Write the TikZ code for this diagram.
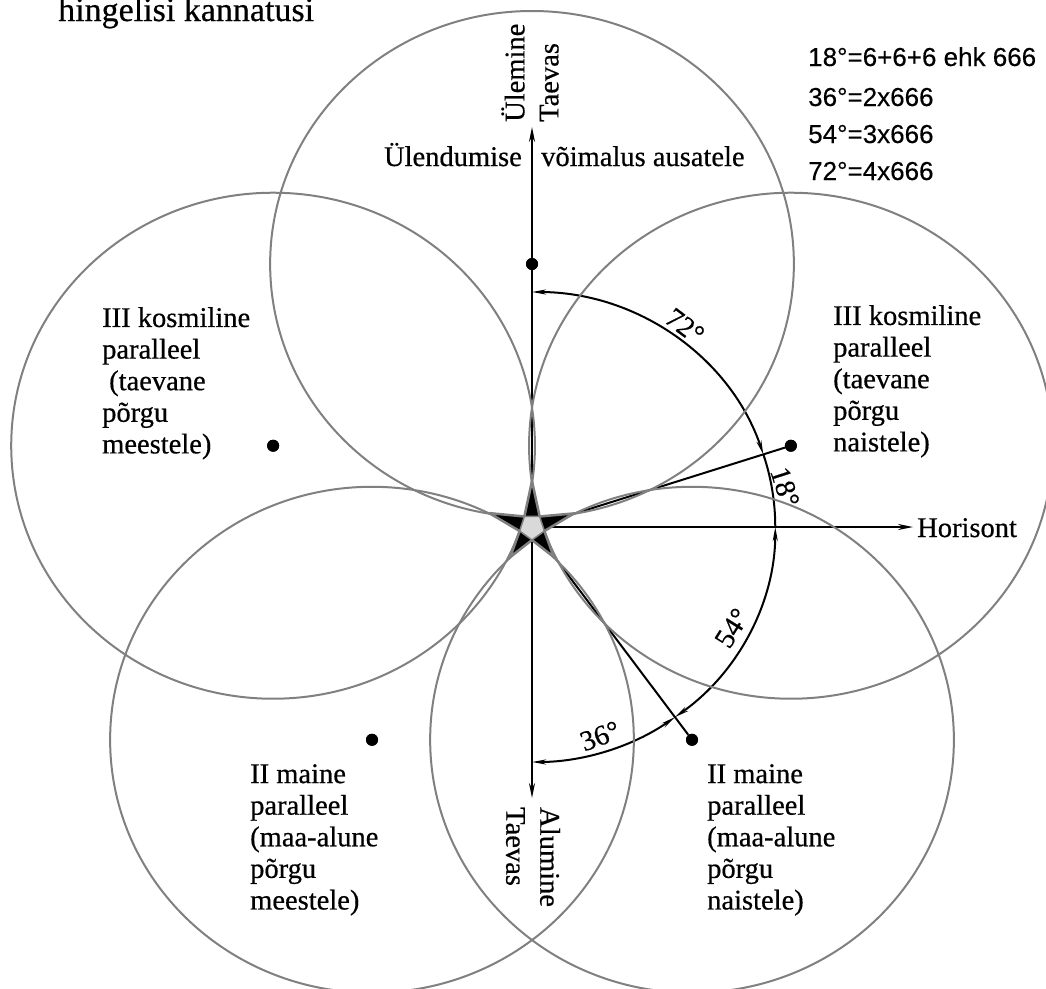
\documentclass[tikz,border=0pt]{standalone}
\usepackage{fontspec}
\setmainfont[FakeBold=0.5,AutoFakeBold=0.5]{Liberation Serif}
\newfontfamily\formfont[FakeBold=0.3]{Liberation Sans}
\usetikzlibrary{arrows.meta}
\definecolor{circgray}{RGB}{128,128,128}
\definecolor{pentfill}{RGB}{217,217,217}
\begin{document}
\begin{tikzpicture}[x=1pt,y=1pt,
  circ/.style={draw=circgray, line width=2pt},
  axisline/.style={draw=black, line width=2pt},
  tipend/.style={-{Stealth[length=15pt,width=6pt]}},
  tipboth/.style={{Stealth[length=14pt,width=5pt]}-{Stealth[length=14pt,width=5pt]}},
  dotnode/.style={circle, fill=black, inner sep=0pt, minimum size=12pt},
  lbl/.style={font=\fontsize{28.5}{31.6}\selectfont, align=left, inner sep=0pt, anchor=north west},
  plain/.style={font=\fontsize{28.5}{34}\selectfont, inner sep=0pt},
  form/.style={font=\formfont\fontsize{26}{30}\selectfont, inner sep=0pt, anchor=base west},
  anglbl/.style={font=\fontsize{28.5}{34}\selectfont, inner sep=0pt}
]
\useasboundingbox (0,0) rectangle (1046,-988);
\coordinate (O) at (532,-527);
\begin{scope}[shift={(O)}, xscale=1.035]
  \coordinate (cT) at (90:263);
  \coordinate (cUL) at (162:263);
  \coordinate (cLL) at (234:263);
  \coordinate (cLR) at (306:263);
  \coordinate (cUR) at (18:263);
  \coordinate (a90) at (90:235);
  \coordinate (a18) at (18:235);
  \coordinate (a0) at (0:235);
  \coordinate (a306) at (306:235);
\end{scope}
\coordinate (topTip) at (532,-127);
\coordinate (botTip) at (532,-798);
\coordinate (horTip) at (913,-527);
% dots (circle centres)
\node[dotnode] (dT) at (cT) {};
\node[dotnode] (dUL) at (cUL) {};
\node[dotnode] (dLL) at (cLL) {};
\node[dotnode] (dLR) at (cLR) {};
\node[dotnode] (dUR) at (cUR) {};
% axes and rays
\draw[axisline, tipend] (O) -- (topTip);
\draw[axisline, tipend] (O) -- (botTip);
\draw[axisline, tipend] (O) -- (horTip);
\draw[axisline] (O) -- (dUR);
\draw[axisline] (O) -- (dLR);
% angle arcs
\begin{scope}[shift={(O)}, xscale=1.035]
  \draw[axisline, tipboth] (a90) arc[start angle=90, end angle=18, radius=235];
  \draw[axisline] (a18) arc[start angle=18, end angle=0, radius=235];
  \draw[axisline, tipboth] (a0) arc[start angle=0, end angle=-54, radius=235];
  \draw[axisline, tipboth] (a306) arc[start angle=-54, end angle=-90, radius=235];
  % five circles
  \draw[circ] (cT) circle[radius=253];
  \draw[circ] (cUL) circle[radius=253];
  \draw[circ] (cLL) circle[radius=253];
  \draw[circ] (cLR) circle[radius=253];
  \draw[circ] (cUR) circle[radius=253];
\end{scope}
% star
\begin{scope}[shift={(O)}]
  \filldraw[fill=black, draw=circgray, line width=2.5pt, line join=round]
    (90:46) -- (126:13) -- (162:45) -- (198:13) -- (234:37) -- (270:13)
    -- (306:37) -- (342:13) -- (18:44) -- (54:13) -- cycle;
  \filldraw[fill=pentfill, draw=circgray, line width=1.5pt]
    (54:13) -- (126:13) -- (198:13) -- (270:13) -- (342:13) -- cycle;
\end{scope}
% dots again on top
\node[dotnode] at (dT) {};
\node[dotnode] at (dUL) {};
\node[dotnode] at (dLL) {};
\node[dotnode] at (dLR) {};
\node[dotnode] at (dUR) {};
% texts
\node[font=\fontsize{34}{40}\selectfont, inner sep=0pt, anchor=base west] (title) at (58,-21) {hingelisi kannatusi};
\node[plain, rotate=90, anchor=west, align=left] (ulem) at (530,-122) {Ülemine\\Taevas};
\node[plain, rotate=-90, anchor=west, align=left] (alum) at (533,-807) {Alumine\\Taevas};
\node[plain, anchor=base east] (uld1) at (522,-166) {Ülendumise};
\node[plain, anchor=base west] (uld2) at (541,-166) {võimalus ausatele};
\node[plain, anchor=base west] (hor) at (917,-537) {Horisont};
\node[lbl] (labUL) at (102,-307) {III kosmiline\\paralleel\\\hspace*{7pt}(taevane\\põrgu\\meestele)};
\node[lbl] (labUR) at (833,-305) {III kosmiline\\paralleel\\(taevane\\põrgu\\naistele)};
\node[lbl] (labLL) at (250,-764) {II maine\\paralleel\\(maa-alune\\põrgu\\meestele)};
\node[lbl] (labLR) at (707,-764) {II maine\\paralleel\\(maa-alune\\põrgu\\naistele)};
\node[form] (f1) at (808,-66) {18°=6+6+6 ehk 666};
\node[form] (f2) at (808,-106) {36°=2x666};
\node[form] (f3) at (808,-143) {54°=3x666};
\node[form] (f4) at (808,-180) {72°=4x666};
\node[anglbl, rotate=-37] (l72) at (685,-326) {72°};
\node[anglbl, rotate=-72] (l18) at (785,-487) {18°};
\node[anglbl, rotate=58] (l54) at (732,-628) {54°};
\node[anglbl, rotate=20] (l36) at (600,-736) {36°};
\end{tikzpicture}
\end{document}
